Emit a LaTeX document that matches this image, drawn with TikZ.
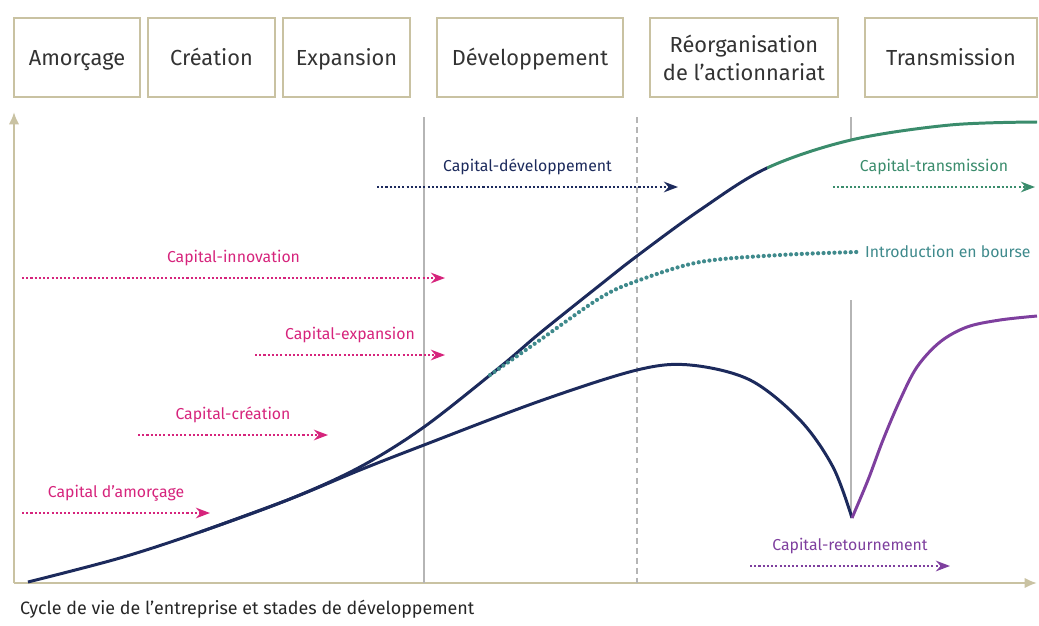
\documentclass[tikz,border=0pt]{standalone}
\usepackage{fontspec}
\setmainfont{Fira Sans}
\usetikzlibrary{arrows.meta}
\definecolor{navy}{HTML}{1C2A5C}
\definecolor{rose}{HTML}{D6247C}
\definecolor{vert}{HTML}{3A8C6C}
\definecolor{bleuvert}{HTML}{3F8A8C}
\definecolor{mauve}{HTML}{7E3F9E}
\definecolor{kaki}{HTML}{C9C2A2}
\definecolor{gris}{HTML}{B5B5B5}
\tikzset{
  {stage/.style} ={draw=kaki, line width=1.2pt, minimum height=1.58cm,
                   minimum width=#1, align=center, text=black!80,
                   font=\fontsize{12.4}{16}\selectfont},
  {one line/.style} ={text height=1em, text depth=0.14em},
  {axis/.style} ={kaki, line width=1.3pt, -{Latex[length=7pt,width=6pt]}},
  {curve/.style} ={#1, line width=1.7pt, line join=round},
  {flow/.style} ={#1, line width=1.6pt, dash pattern=on 1.2pt off 1.2pt,
                  -{Stealth[length=8pt,width=6pt]}},
  {flow label/.style} ={above=2.5pt, font=\fontsize{9}{10}\selectfont},
  {mark line/.style} ={gris, line width=1.1pt},
}
\begin{document}
\begin{tikzpicture}[x=0.02cm,y=-0.02cm]
\useasboundingbox (0,0) rectangle (1039,626);
% stades
\node[stage=2.52cm, one line] (amorcage) at (77,57.5) {Amorçage};
\node[stage=2.54cm, one line] (creation) at (211.5,57.5) {Création};
\node[stage=2.54cm, one line] (expansion) at (346.5,57.5) {Expansion};
\node[stage=3.72cm, one line] (devel) at (530,57.5) {Développement};
\node[stage=3.76cm] (reorg) at (744,57.5) {Réorganisation\\de l’actionnariat};
\node[stage=3.44cm, one line] (transm) at (951,57.5) {Transmission};
% axes
\coordinate (O) at (14,583);
\draw[axis] (O) -- (14,112);
\draw[axis] (O) -- (1037,583);
\draw[mark line] (424,117) -- (424,583);
\draw[mark line, dash pattern=on 3.4pt off 2.3pt] (637,117) -- (637,583);
\draw[mark line] (851,117) -- (851,139);
\draw[mark line] (851,300) -- (851,518);
% courbes
\def\mainpath{plot[smooth, tension=0.55] coordinates {(28,582) (120,558)
  (200,532) (290,499) (360,467) (424,427) (500,367) (540,333) (600,285)
  (637,256) (700,210) (767,168) (851,140) (950,125) (1037,122)}}
\begin{scope}
  \clip (0,0) rectangle (767,626);
  \draw[curve=navy] \mainpath;
\end{scope}
\begin{scope}
  \clip (767,0) rectangle (1039,626);
  \draw[curve=vert] \mainpath;
\end{scope}
\draw[curve=navy] plot[smooth, tension=0.55] coordinates {(200,532) (290,499)
  (360,470) (424,445) (540,401) (637,370) (690,365) (750,380) (800,420)
  (833,467) (852,518)};
\draw[curve=mauve] plot[smooth, tension=0.55] coordinates {(852,518) (868,480)
  (883,440) (900,400) (917,367) (940,342) (967,327) (1000,320) (1037,316)};
\draw[bleuvert, line width=2.4pt, line cap=round, dash pattern=on 0pt off 3.1pt]
  plot[smooth, tension=0.55] coordinates {(490,375) (540,340) (600,298)
  (637,281) (700,262) (780,255) (857,252)};
\node[bleuvert, anchor=west, font=\fontsize{9}{10}\selectfont] (ipo) at (859,251)
  {Introduction en bourse};
% financements
\coordinate (innovS) at (22,278);   \coordinate (innovE) at (445,278);
\coordinate (expS) at (255,355);    \coordinate (expE) at (445,355);
\coordinate (creaS) at (138,435);   \coordinate (creaE) at (328,435);
\coordinate (amorS) at (22,513);    \coordinate (amorE) at (210,513);
\coordinate (devS) at (377,187);    \coordinate (devE) at (678,187);
\coordinate (transS) at (833,187);  \coordinate (transE) at (1035,187);
\coordinate (retS) at (750,566);    \coordinate (retE) at (950,566);
\draw[flow=rose] (innovS) -- node[flow label] (innov) {Capital-innovation} (innovE);
\draw[flow=rose] (expS) -- node[flow label] (exp) {Capital-expansion} (expE);
\draw[flow=rose] (creaS) -- node[flow label] (crea) {Capital-création} (creaE);
\draw[flow=rose] (amorS) -- node[flow label] (amor) {Capital d’amorçage} (amorE);
\draw[flow=navy] (devS) -- node[flow label] (dev) {Capital-développement} (devE);
\draw[flow=vert] (transS) -- node[flow label] (trans) {Capital-transmission} (transE);
\draw[flow=mauve] (retS) -- node[flow label] (ret) {Capital-retournement} (retE);
\node[anchor=base west, font=\fontsize{10.2}{12}\selectfont, text=black!85] (cycle)
  at (14,614) {Cycle de vie de l’entreprise et stades de développement};
\end{tikzpicture}
\end{document}
